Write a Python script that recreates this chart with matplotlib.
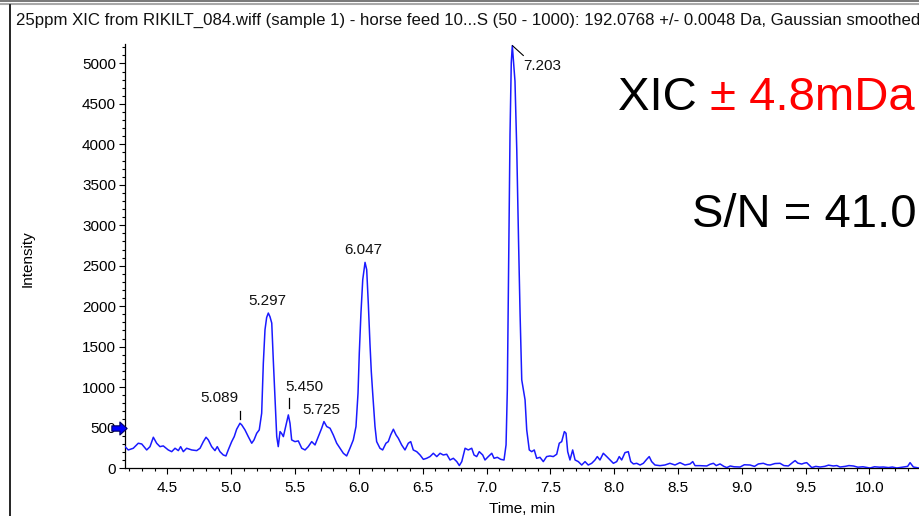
import numpy as np
import matplotlib
matplotlib.use("Agg")
import matplotlib.pyplot as plt
from matplotlib.path import Path
from matplotlib.lines import Line2D
from matplotlib.ticker import MultipleLocator
import matplotlib.transforms as mtrans

# ---------------- data ----------------
time_min = [
    4.167, 4.193, 4.232, 4.271, 4.298, 4.337, 4.363, 4.389, 4.415, 4.441, 4.467,
    4.506, 4.533, 4.559, 4.585, 4.603, 4.624, 4.650, 4.690, 4.729, 4.755, 4.781,
    4.802, 4.820, 4.846, 4.872, 4.890, 4.911, 4.937, 4.958, 4.976, 5.003, 5.023,
    5.042, 5.068, 5.082, 5.107, 5.133, 5.160, 5.178, 5.199, 5.219, 5.238, 5.251,
    5.264, 5.277, 5.290, 5.303, 5.317, 5.329, 5.342, 5.356, 5.368, 5.382, 5.395,
    5.408, 5.426, 5.447, 5.460, 5.473, 5.499, 5.525, 5.552, 5.578, 5.603, 5.630,
    5.656, 5.682, 5.708, 5.726, 5.748, 5.774, 5.799, 5.826, 5.852, 5.878, 5.904,
    5.930, 5.956, 5.977, 5.993, 6.003, 6.016, 6.030, 6.048, 6.061, 6.074, 6.087,
    6.097, 6.108, 6.126, 6.139, 6.165, 6.186, 6.212, 6.230, 6.249, 6.270, 6.291,
    6.309, 6.335, 6.361, 6.387, 6.406, 6.426, 6.453, 6.479, 6.505, 6.531, 6.557,
    6.583, 6.610, 6.636, 6.661, 6.688, 6.714, 6.740, 6.767, 6.787, 6.806, 6.832,
    6.857, 6.884, 6.902, 6.923, 6.943, 6.970, 6.988, 7.014, 7.041, 7.059, 7.085,
    7.111, 7.137, 7.153, 7.163, 7.184, 7.194, 7.202, 7.223, 7.237, 7.251, 7.263,
    7.276, 7.302, 7.315, 7.335, 7.354, 7.374, 7.393, 7.419, 7.445, 7.471, 7.497,
    7.523, 7.550, 7.570, 7.589, 7.610, 7.623, 7.636, 7.654, 7.675, 7.694, 7.719,
    7.746, 7.772, 7.797, 7.824, 7.850, 7.868, 7.889, 7.915, 7.942, 7.968, 7.994,
    8.020, 8.040, 8.059, 8.085, 8.111, 8.130, 8.151, 8.177, 8.203, 8.229, 8.255,
    8.275, 8.294, 8.320, 8.359, 8.398, 8.437, 8.477, 8.516, 8.555, 8.595, 8.616,
    8.634, 8.673, 8.726, 8.750, 8.778, 8.800, 8.830, 8.860, 8.883, 8.910, 8.940,
    8.987, 9.020, 9.065, 9.100, 9.130, 9.169, 9.200, 9.222, 9.260, 9.300, 9.330,
    9.365, 9.400, 9.418, 9.440, 9.470, 9.490, 9.509, 9.549, 9.580, 9.614, 9.650,
    9.680, 9.718, 9.745, 9.770, 9.810, 9.840, 9.875, 9.910, 9.950, 10.005, 10.040,
    10.080, 10.110, 10.150, 10.180, 10.215, 10.260, 10.300, 10.319, 10.345, 10.389,
]
intensity = [
    264, 223, 244, 306, 297, 223, 264, 380, 306, 264, 273,
    223, 202, 244, 215, 264, 202, 244, 223, 215, 244, 326,
    380, 347, 264, 215, 264, 202, 161, 149, 223, 326, 388,
    479, 553, 532, 471, 388, 306, 347, 429, 471, 677, 1296,
    1708, 1860, 1915, 1870, 1791, 1337, 883, 388, 264, 450, 425,
    388, 512, 656, 553, 347, 326, 335, 244, 223, 264, 326,
    285, 388, 491, 574, 512, 491, 409, 306, 244, 182, 149,
    244, 347, 512, 925, 1420, 1915, 2327, 2541, 2451, 2018, 1523,
    1192, 925, 512, 326, 244, 223, 306, 326, 409, 479, 409,
    367, 285, 223, 306, 326, 223, 202, 161, 107, 120, 141,
    182, 141, 182, 161, 170, 99, 120, 79, 30, 79, 244,
    223, 244, 161, 141, 202, 161, 99, 141, 182, 120, 132,
    107, 99, 285, 965, 4120, 5010, 5220, 4780, 3935, 2800, 1900,
    1089, 842, 471, 223, 202, 223, 120, 132, 79, 141, 149,
    141, 170, 306, 326, 450, 429, 202, 99, 223, 99, 79,
    37, 79, 37, 58, 99, 141, 99, 182, 141, 99, 58,
    79, 141, 99, 190, 202, 79, 50, 58, 37, 58, 107,
    141, 79, 37, 29, 37, 58, 37, 66, 37, 50, 79,
    29, 29, 25, 45, 58, 30, 50, 20, 5, 25, 15,
    12, 40, 37, 20, 50, 58, 40, 37, 55, 58, 30,
    25, 70, 91, 60, 49, 60, 66, 5, 20, 12, 20,
    35, 25, 30, 12, 20, 30, 25, 10, 15, 0, 15,
    10, 12, 5, 12, 0, 10, 20, 66, 12, 0,
]
peak_labels = ["5.089", "5.297", "5.450", "5.725", "6.047", "7.203"]
peak_times = [5.089, 5.297, 5.450, 5.725, 6.047, 7.203]
peak_heights = [553, 1915, 656, 574, 2541, 5220]
x_ticks = [4.5, 5.0, 5.5, 6.0, 6.5, 7.0, 7.5, 8.0, 8.5, 9.0, 9.5, 10.0]
y_ticks = [0, 500, 1000, 1500, 2000, 2500, 3000, 3500, 4000, 4500, 5000]
threshold = 500
title_text = ("25ppm XIC from RIKILT_084.wiff (sample 1) - horse feed 10...S "
              "(50 - 1000): 192.0768 +/- 0.0048 Da, Gaussian smoothed")
x_label = "Time, min"
y_label = "Intensity"
big_black_1 = "XIC "
big_red_1 = "\u00b1 4.8mDa"
big_black_2 = "S/N = 41.0"

# ---------------- layout ----------------
W, H = 919, 516
FONT = "Liberation Sans"
plt.rcParams["font.family"] = [FONT, "DejaVu Sans"]

fig = plt.figure(figsize=(W / 100, H / 100), dpi=100)
fig.patch.set_facecolor("white")


def fx(px):
    return px / W


def fy(py):
    return 1 - py / H


ax_left, ax_bottom, ax_top = 125, 468, 44.4
ax = fig.add_axes([fx(ax_left), fy(ax_bottom), (W - ax_left) / W, (ax_bottom - ax_top) / H])
ax.set_facecolor("white")
ax.plot(time_min, intensity, color="#1a1aff", lw=1.1, zorder=3)
ax.set_xlim(4.167, 10.389)
ax.set_ylim(0, 5235)

for s in ("top", "right"):
    ax.spines[s].set_visible(False)
for s in ("left", "bottom"):
    ax.spines[s].set_linewidth(0.9)
    ax.spines[s].set_color("black")

ax.set_xticks(x_ticks)
ax.set_xticklabels([f"{v:.1f}" for v in x_ticks])
ax.set_yticks(y_ticks)
ax.set_yticklabels([str(v) for v in y_ticks])
ax.xaxis.set_minor_locator(MultipleLocator(0.1))
ax.yaxis.set_minor_locator(MultipleLocator(100))
ax.tick_params(which="major", direction="out", length=4, width=0.8, labelsize=11,
               colors="black")
ax.tick_params(axis="x", which="major", pad=5)
ax.tick_params(axis="y", which="major", pad=2.5)
ax.tick_params(which="minor", direction="out", length=2, width=0.8)

# peak annotations (offsets in pixels)
label_offsets = {
    "5.089": (-23, 25),
    "5.297": (-2, 12),
    "5.450": (16, 28),
    "5.725": (-2, 11.5),
    "6.047": (-2, 12),
    "7.203": (30, -20),
}
for lab, t, h in zip(peak_labels, peak_times, peak_heights):
    dx, dy = label_offsets[lab]
    ax.annotate(lab, xy=(t, h), xytext=(dx, dy), textcoords="offset pixels",
                ha="center", va="center", fontsize=11, color="#111111",
                annotation_clip=False, zorder=4)

# small vertical tick marks above two minor peaks
tick_marks = {"5.089": (-3, 4, 12), "5.450": (0, 7, 17)}
for lab, t, h in zip(peak_labels, peak_times, peak_heights):
    if lab in tick_marks:
        dx, y0, y1 = tick_marks[lab]
        p0 = ax.transData.transform((t, h)) + np.array([dx, y0])
        p1 = ax.transData.transform((t, h)) + np.array([dx, y1])
        fig.add_artist(Line2D([p0[0] / W, p1[0] / W], [p0[1] / H, p1[1] / H],
                              transform=fig.transFigure, color="black", lw=0.9))

# leader line for the tallest peak
ax.annotate("", xy=(7.203, 5220), xytext=(11, -10), textcoords="offset pixels",
            arrowprops=dict(arrowstyle="-", color="black", lw=0.8, shrinkA=0, shrinkB=0),
            annotation_clip=False)

# threshold arrow marker on the y axis
arrow_path = Path([(-1, -0.35), (0.05, -0.35), (0.05, -0.85), (1, 0),
                   (0.05, 0.85), (0.05, 0.35), (-1, 0.35), (-1, -0.35)],
                  [Path.MOVETO] + [Path.LINETO] * 6 + [Path.CLOSEPOLY])
mk_tr = mtrans.offset_copy(ax.transData, fig=fig, x=-6, y=0, units="dots")
ax.plot([ax.get_xlim()[0]], [threshold], marker=arrow_path, markersize=11,
        color="#0000ff", markeredgecolor="#000060", markeredgewidth=0.8,
        transform=mk_tr, clip_on=False, zorder=6, linestyle="none")

# axis labels
fig.text(fx(28), fy(259), y_label, rotation=90, ha="center", va="center", fontsize=11)
fig.text(fx(522), fy(509), x_label, ha="center", va="center", fontsize=11)

# title
renderer = fig.canvas.get_renderer()
t_obj = fig.text(fx(16), fy(20), title_text, ha="left", va="center", fontsize=11,
                 color="#111111")
w = t_obj.get_window_extent(renderer).width
t_obj.set_fontsize(11 * 897 / w)

# big annotation text
b1 = fig.text(fx(618), fy(110), big_black_1, ha="left", va="baseline", fontsize=34,
              color="black")
bw = b1.get_window_extent(renderer)
fig.text(bw.x1 / W, fy(110), big_red_1, ha="left", va="baseline", fontsize=34,
         color="#ff0000")
fig.text(fx(692), fy(227), big_black_2, ha="left", va="baseline", fontsize=34,
         color="black")

# window frame lines
fig.add_artist(Line2D([0, 1], [fy(1), fy(1)], transform=fig.transFigure,
                      color="#606060", lw=1.2))
fig.add_artist(Line2D([0, 1], [fy(3.5), fy(3.5)], transform=fig.transFigure,
                      color="#a8a8a8", lw=1.5))
fig.add_artist(Line2D([fx(10), fx(10)], [fy(5), 0], transform=fig.transFigure,
                      color="black", lw=1.2))

fig.savefig("out.png", dpi=100, facecolor="white")
